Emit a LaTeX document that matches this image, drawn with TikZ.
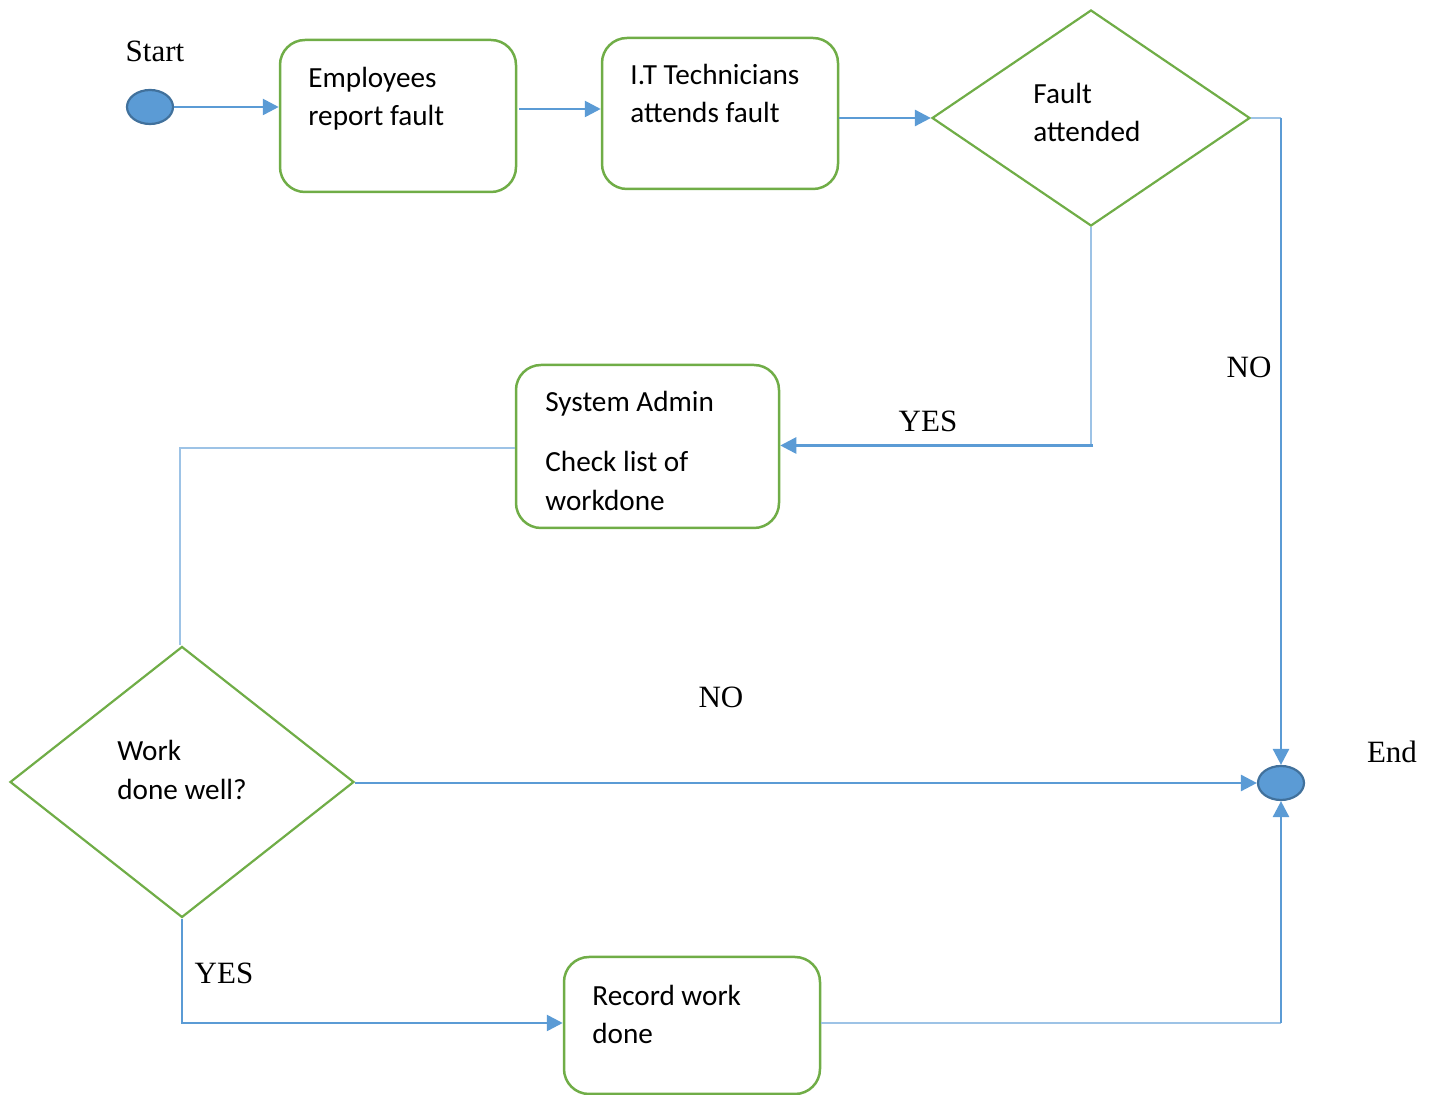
\documentclass[tikz,border=0pt]{standalone}
\usepackage{fontspec}
\setmainfont{Liberation Serif}
\newfontfamily\boxfont{Carlito}
\usetikzlibrary{arrows.meta,shapes.geometric,calc}
\definecolor{boxgreen}{HTML}{70AD47}
\definecolor{flowblue}{HTML}{5B9BD5}
\definecolor{lightblue}{HTML}{9DC3E6}
\definecolor{dotedge}{HTML}{41719C}
\begin{document}
\begin{tikzpicture}[x=0.5pt,y=-0.5pt,
  stepbox/.style={draw=boxgreen,line width=1.25pt,rounded corners=12.5pt,inner sep=0pt},
  decision/.style={diamond,draw=boxgreen,line width=1.1pt,inner sep=0pt,aspect=1},
  terminal/.style={ellipse,draw=dotedge,fill=flowblue,line width=1.1pt,inner sep=0pt,minimum width=23pt,minimum height=17pt},
  boxtext/.style={anchor=base west,inner sep=0pt,font=\boxfont\fontsize{14.6}{19}\selectfont},
  lbl/.style={anchor=base,inner sep=0pt,font=\fontsize{15.5}{18}\selectfont},
  conn/.style={draw=flowblue,line width=1.35pt,-{Triangle[length=8pt,width=8pt]}},
  thin/.style={draw=lightblue,line width=0.8pt}]
\useasboundingbox (0,0) rectangle (1437,1095);

% terminals
\node[terminal] (start) at (150,107) {};
\node[terminal] (end) at (1281,783) {};

% process boxes
\node[stepbox,minimum width=118pt,minimum height=76pt] (b1) at (398,116) {};
\node[stepbox,minimum width=118pt,minimum height=75.5pt] (b2) at (720,113.5) {};
\node[stepbox,minimum width=131.5pt,minimum height=81.5pt] (b3) at (647.5,446.5) {};
\node[stepbox,minimum width=128pt,minimum height=68.5pt] (b4) at (692,1025.5) {};

% decisions
\node[decision,minimum width=159pt,minimum height=108pt] (d1) at (1091,118) {};
\node[decision,minimum width=172pt,minimum height=135.5pt] (d2) at (182,782) {};

% box texts
\node[boxtext] (t1a) at (308,88) {Employees};
\node[boxtext] (t1b) at (308,126) {report fault};
\node[boxtext] (t2a) at (630,85) {I.T Technicians};
\node[boxtext] (t2b) at (630,123) {attends fault};
\node[boxtext] (t3a) at (1033,104) {Fault};
\node[boxtext] (t3b) at (1033,142) {attended};
\node[boxtext] (t4a) at (545,412) {System Admin};
\node[boxtext] (t4b) at (545,472) {Check list of};
\node[boxtext] (t4c) at (545,511) {workdone};
\node[boxtext] (t5a) at (117,761) {Work};
\node[boxtext] (t5b) at (117,800) {done well?};
\node[boxtext] (t6a) at (592,1006) {Record work};
\node[boxtext] (t6b) at (592,1044) {done};

% labels
\node[lbl] (lstart) at (155,62) {Start};
\node[lbl] (lend) at (1392,763) {End};
\node[lbl] (lno1) at (1249,378) {NO};
\node[lbl] (lyes1) at (928,432) {YES};
\node[lbl] (lno2) at (721,708) {NO};
\node[lbl] (lyes2) at (224,984) {YES};

% connectors
\draw[conn] (start.east) -- (start.east -| b1.west);
\draw[conn] ($(b1.east)+(2,-7)$) -- ($(b1.east -| b2.west)+(0,-7)$);
\draw[conn] (b2.east |- d1.west) -- (d1.west);

\draw[thin] (d1.east) -- (d1.east -| end);
\draw[conn] (d1.east -| end) -- (end.north);

\draw[thin] (d1.south) -- ($(d1.south |- b3.east)+(0,-1)$);
\draw[conn] ($(d1.south |- b3.east)+(2,-1)$) -- ($(b3.east)+(0,-1)$);

\draw[thin] ($(b3.west)+(0,1.5)$) -- ($(b3.west -| d2.north)+(-2,1.5)$) -- ($(d2.north)+(-2,0)$);

\draw[conn] (d2.east |- end) -- (end.west);

\draw[conn] (d2.south) -- ($(d2.south |- b4.west)+(0,-2.5)$) -- ($(b4.west)+(0,-2.5)$);

\draw[thin] ($(b4.east)+(0,-2.5)$) -- ($(b4.east -| end)+(0,-2.5)$);
\draw[conn] ($(b4.east -| end)+(0,-2.5)$) -- (end.south);
\end{tikzpicture}
\end{document}
